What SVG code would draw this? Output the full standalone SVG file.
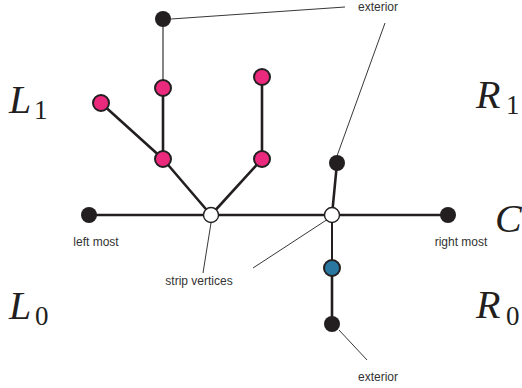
<svg xmlns="http://www.w3.org/2000/svg" width="522" height="388" viewBox="0 0 522 388">
<style>
.e{stroke:#231f20;stroke-width:2.6;fill:none;stroke-linecap:round}
.t{stroke:#231f20;stroke-width:1.1;fill:none}
.ld{stroke:#231f20;stroke-width:0.9;fill:none}
.blk{fill:#231f20}
.pk{fill:#ec2a7d;stroke:#231f20;stroke-width:2}
.bl{fill:#2a78a2;stroke:#231f20;stroke-width:2}
.wh{fill:#ffffff;stroke:#231f20;stroke-width:1.4}
.lab{font-family:"Liberation Sans",Arial,sans-serif;font-size:12px;fill:#333333}
.big{font-family:"Liberation Serif","Times New Roman",serif;font-size:40px;font-style:italic;fill:#231f20}
.sub{font-family:"Liberation Serif","Times New Roman",serif;font-size:27px;fill:#231f20}
</style>
<g id="connectors">
<line class="t" x1="163" y1="19" x2="163" y2="88"/>
<line class="e" x1="163" y1="88" x2="163" y2="159"/>
<line class="e" x1="101" y1="103" x2="163" y2="159"/>
<line class="e" x1="163" y1="159" x2="211" y2="215"/>
<line class="e" x1="262" y1="77" x2="262" y2="159"/>
<line class="e" x1="262" y1="159" x2="211" y2="215"/>
<line class="e" x1="89" y1="215" x2="448" y2="215"/>
<line class="e" x1="332" y1="215" x2="337" y2="163"/>
<line class="e" x1="332" y1="215" x2="332" y2="268" style="stroke-width:2"/>
<line class="e" x1="332" y1="268" x2="332" y2="324"/>
<line class="ld" x1="171" y1="19" x2="345" y2="7"/>
<line class="ld" x1="385" y1="23" x2="337" y2="156"/>
<line class="ld" x1="211" y1="223" x2="203" y2="273"/>
<line class="ld" x1="328" y1="219" x2="253" y2="268"/>
<line class="ld" x1="339" y1="330" x2="367" y2="360"/>
</g>
<g id="n_top"><circle class="blk" cx="163" cy="19" r="8"/></g>
<g id="n_p1"><circle class="pk" cx="163" cy="88" r="8"/></g>
<g id="n_p2"><circle class="pk" cx="101" cy="103" r="8"/></g>
<g id="n_p3"><circle class="pk" cx="163" cy="159" r="8"/></g>
<g id="n_p4"><circle class="pk" cx="262" cy="77" r="8"/></g>
<g id="n_p5"><circle class="pk" cx="262" cy="159" r="8"/></g>
<g id="n_left"><circle class="blk" cx="89" cy="215" r="8"/></g>
<g id="n_right"><circle class="blk" cx="448" cy="215" r="8"/></g>
<g id="n_s1"><circle class="wh" cx="211" cy="215" r="7.5"/></g>
<g id="n_s2"><circle class="wh" cx="332" cy="215" r="7.5"/></g>
<g id="n_ext1"><circle class="blk" cx="337" cy="163" r="8"/></g>
<g id="n_blue"><circle class="bl" cx="332" cy="268" r="8"/></g>
<g id="n_ext2"><circle class="blk" cx="332" cy="324" r="8"/></g>
<g id="labels">
<text class="lab" x="378" y="11" text-anchor="middle">exterior</text>
<text class="lab" x="378" y="381" text-anchor="middle">exterior</text>
<text class="lab" x="96" y="246" text-anchor="middle">left most</text>
<text class="lab" x="461" y="246" text-anchor="middle">right most</text>
<text class="lab" x="199" y="285" text-anchor="middle">strip vertices</text>
<text class="big" x="9" y="113">L</text><text class="sub" x="34" y="119">1</text>
<text class="big" x="9" y="319">L</text><text class="sub" x="35" y="325">0</text>
<text class="big" x="476" y="108">R</text><text class="sub" x="506" y="114">1</text>
<text class="big" x="476" y="318">R</text><text class="sub" x="506" y="325">0</text>
<text class="big" x="495" y="232">C</text>
</g>
</svg>
